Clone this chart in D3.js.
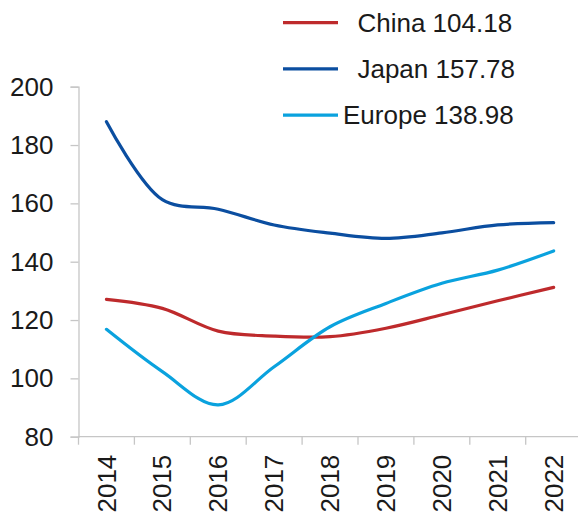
<!DOCTYPE html>
<html>
<head>
<meta charset="utf-8">
<script src="https://cdn.jsdelivr.net/npm/d3@7"></script>
<style>
  html, body { margin: 0; padding: 0; background: #ffffff; }
  svg { display: block; }
  text { font-family: "Liberation Sans", Arial, Helvetica, sans-serif; fill: #1a1a1a; }
</style>
</head>
<body>
<svg id="chart" width="578" height="513"></svg>
<script>
// Categories and series
const years = ["2014", "2015", "2016", "2017", "2018", "2019", "2020", "2021", "2022"];
const china  = [127.1, 124.0, 116.2, 114.5, 114.3, 117.2, 121.8, 126.6, 131.2];
const japan  = [188.0, 161.3, 158.0, 152.6, 149.8, 148.0, 149.9, 152.6, 153.4];
const europe = [116.8, 102.3, 90.9, 104.0, 117.7, 125.7, 132.6, 137.1, 143.7];
const seriesNames = ["China", "Japan", "Europe"];
const legendLabels = ["  China 104.18", "  Japan 157.78", "Europe 138.98"];
const yTicks = [80, 100, 120, 140, 160, 180, 200];

const colors = ["#BE2A2C", "#0B4EA0", "#0AA2DE"];
const seriesValues = [china, japan, europe];

const svg = d3.select("#chart");
const W = 578, H = 513;
const plot = { left: 78.5, top: 86.7, bottom: 436.7, step: 55.9 };

const x = d3.scaleBand()
  .domain(years)
  .range([plot.left, plot.left + plot.step * years.length])
  .paddingInner(0).paddingOuter(0);

const y = d3.scaleLinear()
  .domain([80, 200])
  .range([plot.bottom, plot.top]);

const axisColor = "#c6c6c6";

// Y axis
const yAxis = svg.append("g")
  .attr("transform", `translate(${plot.left},0)`)
  .call(d3.axisLeft(y).tickValues(yTicks).tickSize(8).tickPadding(17));
yAxis.select(".domain").attr("stroke", axisColor).attr("stroke-width", 1.3);
yAxis.selectAll(".tick line").attr("stroke", axisColor).attr("stroke-width", 1.3);
yAxis.selectAll(".tick text")
  .attr("font-size", 26)
  .attr("fill", "#1a1a1a")
  .style("font-family", "'Liberation Sans', Arial, sans-serif");

// X axis: ticks sit on the category boundaries
const xAxisG = svg.append("g")
  .attr("transform", `translate(0,${plot.bottom})`);
xAxisG.append("line")
  .attr("x1", plot.left).attr("x2", W)
  .attr("stroke", axisColor).attr("stroke-width", 1.3);
xAxisG.selectAll(".xtick")
  .data(years)
  .join("line")
  .attr("class", "xtick")
  .attr("x1", d => x(d)).attr("x2", d => x(d))
  .attr("y1", 0).attr("y2", 8)
  .attr("stroke", axisColor).attr("stroke-width", 1.3);
xAxisG.selectAll(".xlabel")
  .data(years)
  .join("text")
  .attr("class", "xlabel")
  .attr("transform", d => `translate(${x(d) + x.bandwidth() / 2},18) rotate(-90)`)
  .attr("text-anchor", "end")
  .attr("dy", "0.35em")
  .attr("font-size", 26)
  .text(d => d);

// Smoothed series lines
const line = d3.line()
  .x((d, i) => x(years[i]) + x.bandwidth() / 2)
  .y(d => y(d))
  .curve(d3.curveCatmullRom.alpha(0.5));

svg.append("g").selectAll("path")
  .data(seriesValues)
  .join("path")
  .attr("d", d => line(d))
  .attr("fill", "none")
  .attr("stroke", (d, i) => colors[i])
  .attr("stroke-width", 3.2)
  .attr("stroke-linecap", "round")
  .attr("stroke-linejoin", "round");

// Legend
const legend = svg.append("g");
const legendRows = legend.selectAll("g")
  .data(seriesNames)
  .join("g")
  .attr("transform", (d, i) => `translate(283,${22.7 + i * 46.2})`);
legendRows.append("line")
  .attr("x1", 0).attr("x2", 55)
  .attr("stroke", (d, i) => colors[i])
  .attr("stroke-width", 3.2);
legendRows.append("text")
  .attr("x", 60)
  .attr("dy", "0.35em")
  .attr("font-size", 26)
  .style("white-space", "pre")
  .text((d, i) => legendLabels[i]);
</script>
</body>
</html>
